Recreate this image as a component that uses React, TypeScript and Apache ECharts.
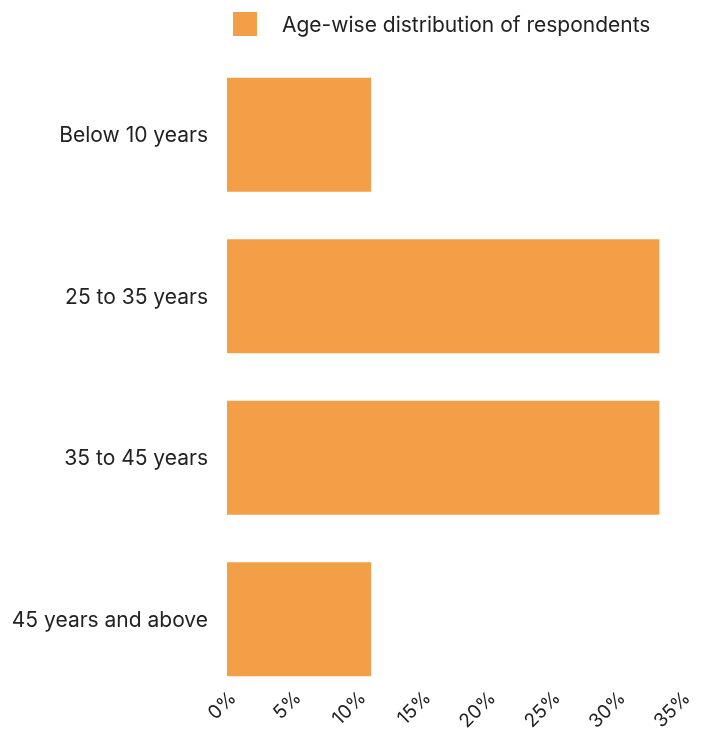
import React, { useEffect, useRef } from "react";
import * as echarts from "echarts";

const categories = ["Below 10 years", "25 to 35 years", "35 to 45 years", "45 years and above"];
const values = [11.11, 33.33, 33.33, 11.11];
const seriesName = "Age-wise distribution of respondents";
const barColor = "#F39F48";

export default function App() {
  const ref = useRef<HTMLDivElement>(null);
  useEffect(() => {
    if (!ref.current) return;
    const chart = echarts.init(ref.current, null, { renderer: "svg" });
    chart.setOption({
      animation: false,
      textStyle: { fontFamily: "Inter" },
      legend: {
        left: 228,
        top: 7,
        itemWidth: 24,
        itemHeight: 24,
        icon: "rect",
        itemStyle: { borderRadius: 2 },
        data: [seriesName],
        textStyle: { fontSize: 21, color: "#222", fontFamily: "Inter", padding: [0, 0, 0, 20] },
      },
      grid: { left: 227, right: 21, top: 54, bottom: 31, containLabel: false, outerBoundsMode: "none" },
      xAxis: {
        type: "value",
        min: 0,
        max: 35,
        interval: 5,
        axisLine: { show: false },
        axisTick: { show: false },
        splitLine: { show: false },
        axisLabel: {
          rotate: 45,
          margin: 0,
          padding: [0, -8, 0, 0],
          fontSize: 19,
          color: "#222",
          fontFamily: "Inter",
          formatter: (v: number) => `${v}%`,
        },
      },
      yAxis: {
        type: "category",
        inverse: true,
        data: categories,
        axisLine: { show: false },
        axisTick: { show: false },
        splitLine: { show: false },
        axisLabel: { fontSize: 21, color: "#222", margin: 19, fontFamily: "Inter" },
      },
      series: [
        {
          name: seriesName,
          type: "bar",
          data: values,
          barCategoryGap: "29.3%",
          itemStyle: { color: barColor },
        },
      ],
    });
    return () => chart.dispose();
  }, []);
  return <div ref={ref} style={{ position: "fixed", left: 0, top: 0, width: 702, height: 731 }} />;
}
